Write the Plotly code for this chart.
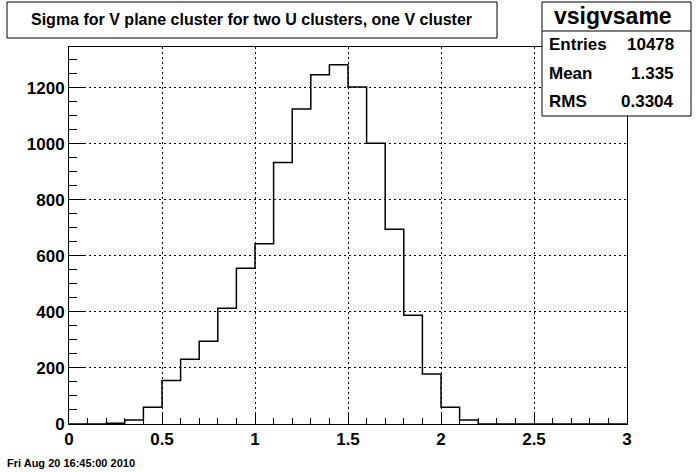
import plotly.graph_objects as go

# ---- data ----
bin_edges = [0.0, 0.1, 0.2, 0.3, 0.4, 0.5, 0.6, 0.7, 0.8, 0.9, 1.0,
             1.1, 1.2, 1.3, 1.4, 1.5, 1.6, 1.7, 1.8, 1.9, 2.0,
             2.1, 2.2, 2.3, 2.4, 2.5, 2.6, 2.7, 2.8, 2.9, 3.0]
counts = [0, 0, 3, 14, 60, 155, 231, 295, 413, 556,
          643, 933, 1124, 1246, 1282, 1202, 1002, 695, 388, 178,
          60, 14, 0, 0, 0, 0, 0, 0, 0, 0]
title_text = "Sigma for V plane cluster for two U clusters, one V cluster"
stats_name = "vsigvsame"
stats_labels = ["Entries", "Mean", "RMS"]
stats_values = ["10478", "1.335", "0.3304"]
date_text = "Fri Aug 20 16:45:00 2010"

W, H = 696, 472
L, R, T, B = 69, 627, 47, 424  # frame in pixels


def px(x):
    return (x - L) / (R - L)


def py(y):
    return (B - y) / (B - T)


FONT = "Liberation Sans, Arial, Helvetica, sans-serif"

fig = go.Figure()
fig.add_trace(go.Scatter(
    x=bin_edges,
    y=counts + [counts[-1]],
    mode="lines",
    line=dict(shape="hv", color="black", width=1.5),
    hoverinfo="skip",
    showlegend=False,
))

axis_common = dict(
    showline=True, linecolor="black", linewidth=1, mirror=True,
    zeroline=False, showgrid=True, gridcolor="black", gridwidth=1,
    griddash="2px,3px", ticks="inside", tickcolor="black", tickwidth=1,
    tickfont=dict(family=FONT, size=17, color="black", weight="bold"),
)

fig.update_xaxes(range=[0, 3], tickmode="linear", tick0=0, dtick=0.5,
                 ticklen=11,
                 minor=dict(tickmode="linear", tick0=0, dtick=0.1,
                            ticks="inside", ticklen=6, tickcolor="black",
                            tickwidth=1, showgrid=False),
                 **axis_common)
fig.update_yaxes(range=[0, 1345], tickmode="linear", tick0=0, dtick=200,
                 ticklen=16,
                 minor=dict(tickmode="linear", tick0=0, dtick=50,
                            ticks="inside", ticklen=8, tickcolor="black",
                            tickwidth=1, showgrid=False),
                 **axis_common)

shapes = []
annotations = []

# title box
shapes.append(dict(type="rect", xref="paper", yref="paper",
                   x0=px(7), x1=px(497), y0=py(38), y1=py(2),
                   line=dict(color="black", width=1), fillcolor="white",
                   layer="above"))
annotations.append(dict(xref="paper", yref="paper", x=px(251), y=py(20),
                        text=title_text, showarrow=False,
                        xanchor="center", yanchor="middle",
                        font=dict(family=FONT, size=16, color="black",
                                  weight="bold")))

# stats box
shapes.append(dict(type="rect", xref="paper", yref="paper",
                   x0=px(542), x1=px(691), y0=py(116), y1=py(2),
                   line=dict(color="black", width=1), fillcolor="white",
                   layer="above"))
shapes.append(dict(type="line", xref="paper", yref="paper",
                   x0=px(542), x1=px(691), y0=py(31), y1=py(31),
                   line=dict(color="black", width=1), layer="above"))
annotations.append(dict(xref="paper", yref="paper", x=px(613), y=py(16),
                        text=stats_name, showarrow=False,
                        xanchor="center", yanchor="middle",
                        font=dict(family=FONT, size=23, color="black",
                                  weight="bold")))
row_y = [45, 73, 101]
for lab, val, yy in zip(stats_labels, stats_values, row_y):
    annotations.append(dict(xref="paper", yref="paper", x=px(547), y=py(yy),
                            text=lab, showarrow=False,
                            xanchor="left", yanchor="middle",
                            font=dict(family=FONT, size=17, color="black",
                                      weight="bold")))
    annotations.append(dict(xref="paper", yref="paper", x=px(676), y=py(yy),
                            text=val, showarrow=False,
                            xanchor="right", yanchor="middle",
                            font=dict(family=FONT, size=17, color="black",
                                      weight="bold")))

# date stamp
annotations.append(dict(xref="paper", yref="paper", x=px(5), y=py(463),
                        text=date_text, showarrow=False,
                        xanchor="left", yanchor="middle",
                        font=dict(family=FONT, size=11, color="black",
                                  weight="bold")))

fig.update_layout(
    width=W, height=H,
    margin=dict(l=L, r=W - R, t=T, b=H - B, pad=0),
    paper_bgcolor="white", plot_bgcolor="white",
    shapes=shapes, annotations=annotations,
    showlegend=False,
)

fig.write_html("out.html",
               config={"displayModeBar": False},
               post_script="document.body.style.margin='0';"
                           "document.body.style.padding='0';")
